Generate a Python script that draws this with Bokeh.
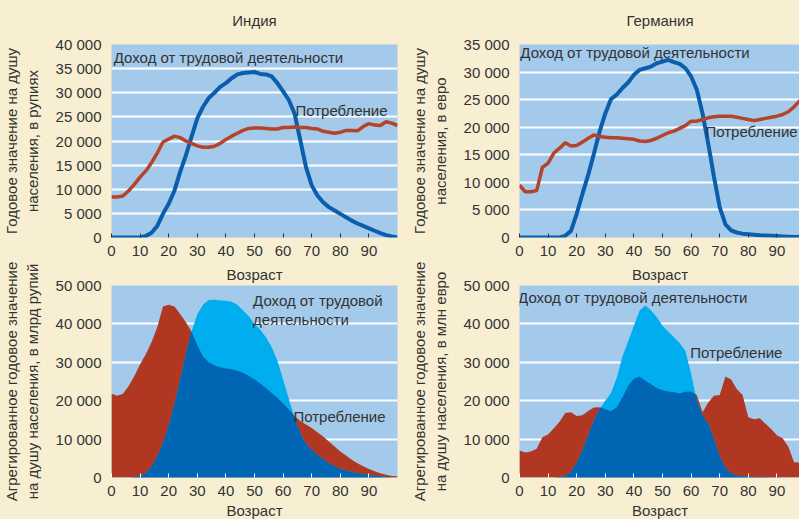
import numpy as np
from bokeh.plotting import figure
from bokeh.layouts import column, row
from bokeh.models import FixedTicker, Label, Range1d, GlobalInlineStyleSheet, LinearAxis
from bokeh.embed import file_html
from bokeh.resources import INLINE

# ---------------- data ----------------
ages = list(range(0, 101, 2))

# India, per capita (rupees)
in_income = [0, 0, 0, 0, 0, 0, 300, 1000, 2400, 4900, 7000, 9700, 13600, 17000, 20900, 24700,
             27100, 28900, 30000, 31200, 32000, 33000, 33800, 34100, 34200, 34300, 33900, 33800,
             33400, 32000, 30300, 28500, 25700, 20200, 14600, 10800, 8700, 7300, 6300, 5600, 4900,
             4200, 3500, 2900, 2400, 1900, 1400, 900, 500, 200, 0]
in_consumption = [8400, 8400, 8600, 9700, 11000, 12500, 13800, 15500, 17500, 19800, 20400, 21000,
                  20700, 20000, 19500, 19000, 18700, 18700, 18900, 19500, 20300, 21000, 21600,
                  22200, 22600, 22700, 22700, 22600, 22500, 22500, 22800, 22800, 22900, 22800,
                  22800, 22600, 22500, 22000, 21800, 21600, 21800, 22200, 22200, 22100, 23000,
                  23600, 23300, 23200, 24000, 23700, 23200]

# Germany, per capita (euro)
de_income = [0, 0, 0, 0, 0, 0, 0, 0, 300, 1200, 4300, 7900, 11300, 15200, 19200, 22500, 25100,
             25900, 27100, 28100, 29500, 30400, 30700, 31000, 31600, 31900, 32200, 31800, 31500,
             30700, 29200, 26800, 22500, 17000, 11000, 5500, 2400, 1300, 900, 700, 600, 500, 400,
             350, 300, 250, 200, 150, 100, 100, 100]
de_consumption = [9500, 8300, 8300, 8500, 12700, 13500, 15300, 16200, 17200, 16600, 16700, 17300,
                  18000, 18600, 18300, 18200, 18100, 18100, 18000, 17900, 17800, 17500, 17400,
                  17600, 18000, 18500, 19000, 19300, 19800, 20300, 21100, 21100, 21400, 21700,
                  21900, 22000, 22000, 22000, 21800, 21600, 21400, 21200, 21400, 21600, 21800,
                  22000, 22300, 22800, 23700, 24800, 25500]

# India, aggregate (bn rupees)
in_agg_income = [0, 0, 0, 0, 100, 400, 1200, 2800, 5500, 9000, 13500, 19000, 25500, 32000, 38000,
                 42500, 45000, 46200, 46300, 46100, 46000, 45800, 45000, 43500, 42000, 40000, 38500,
                 36500, 34000, 30400, 25500, 20500, 15500, 11500, 8800, 7200, 5900, 4800, 3700, 2900,
                 2300, 1800, 1400, 1100, 850, 650, 450, 300, 150, 80, 0]
in_agg_consumption = [21800, 21300, 21800, 23800, 26400, 29500, 32100, 35200, 39100, 44500, 45000,
                      44500, 42600, 40400, 38000, 34500, 31500, 30000, 29200, 28700, 28400, 28200,
                      27800, 27300, 26500, 25500, 24500, 23300, 22000, 20800, 19300, 17800, 16000,
                      14700, 13800, 12900, 11800, 10700, 9400, 8100, 6800, 5700, 4600, 3700, 2900,
                      2200, 1600, 1100, 700, 400, 300]

# Germany, aggregate (mn euro)
de_agg_income = [0, 0, 0, 0, 0, 0, 0, 100, 300, 1500, 3800, 7000, 11000, 14800, 17800, 20000,
                 22000, 26000, 31500, 35500, 39500, 43500, 44800, 43500, 41800, 39500, 38000, 36500,
                 35000, 33000, 27000, 20000, 16000, 14000, 10000, 5500, 2500, 1000, 500, 300, 200,
                 150, 100, 100, 50, 50, 0, 0, 0, 0, 0]
de_agg_consumption = [7000, 6500, 6800, 7500, 10500, 11200, 12800, 14500, 16800, 17000, 16000,
                      16200, 17300, 18200, 18300, 17800, 17300, 18300, 20900, 23900, 25700, 26300,
                      25200, 24300, 23300, 22700, 22400, 22200, 21900, 22300, 22400, 21500, 17000,
                      19500, 21300, 21500, 26300, 25500, 23000, 21500, 15700, 15200, 15400, 14000,
                      12600, 11000, 10200, 8000, 4000, 3900, 4800]

x_ticks = [0, 10, 20, 30, 40, 50, 60, 70, 80, 90]
y_ticks_in = [0, 5000, 10000, 15000, 20000, 25000, 30000, 35000, 40000]
y_labels_in = ["0", "5 000", "10 000", "15 000", "20 000", "25 000", "30 000", "35 000", "40 000"]
y_ticks_de = [0, 5000, 10000, 15000, 20000, 25000, 30000, 35000]
y_labels_de = ["0", "5 000", "10 000", "15 000", "20 000", "25 000", "30 000", "35 000"]
y_ticks_agg = [0, 10000, 20000, 30000, 40000, 50000]
y_labels_agg = ["0", "10 000", "20 000", "30 000", "40 000", "50 000"]

# ---------------- style ----------------
PAGE = "#f8efd2"
BG = "#a3c9eb"
TXT = "#333333"
RED_LINE = "#b5432a"
BLUE_LINE = "#0a5eab"
RED_AREA = "#b03823"
CYAN_AREA = "#00aeef"
DARK_AREA = "#0066b3"
FONT = "Liberation Sans"
FS = "15px"

PX_PER_YEAR = 2.86


def style_label(ax, standoff):
    ax.axis_label_text_font = FONT
    ax.axis_label_text_font_size = FS
    ax.axis_label_text_font_style = "normal"
    ax.axis_label_text_color = TXT
    ax.axis_label_standoff = standoff


def make_fig(x0, frame_w, frame_h, ymax, yt, yl, ytitle, top, bottom, tick_color,
             top_text, top_standoff, xlabel=None, right=0):
    p = figure(title=None, frame_width=frame_w, frame_height=frame_h,
               x_range=Range1d(0, frame_w / PX_PER_YEAR), y_range=Range1d(0, ymax),
               output_backend="svg", toolbar_location=None,
               min_border_left=x0, min_border_right=right,
               min_border_top=top, min_border_bottom=bottom,
               background_fill_color=BG, border_fill_color=PAGE, outline_line_color=None)
    xa = p.xaxis[0]
    xa.ticker = FixedTicker(ticks=x_ticks)
    xa.axis_line_color = None
    xa.major_tick_in = 4
    xa.major_tick_out = 0
    xa.major_tick_line_color = tick_color
    xa.major_tick_line_width = 1
    xa.minor_tick_line_color = None
    xa.major_label_text_font = FONT
    xa.major_label_text_font_size = FS
    xa.major_label_text_color = TXT
    xa.major_label_standoff = 8
    if xlabel:
        xa.axis_label = xlabel
        style_label(xa, 3)
    # heading above the frame (country name or the age axis title of the upper chart)
    head = LinearAxis(ticker=FixedTicker(ticks=[]), axis_line_color=None,
                      major_tick_line_color=None, minor_tick_line_color=None,
                      major_tick_in=0, major_tick_out=0, major_label_standoff=0,
                      axis_label=top_text)
    style_label(head, top_standoff)
    p.add_layout(head, "above")
    ya = p.yaxis[0]
    ya.ticker = FixedTicker(ticks=yt)
    ya.major_label_overrides = {t: l for t, l in zip(yt, yl)}
    ya.axis_line_color = None
    ya.major_tick_line_color = None
    ya.minor_tick_line_color = None
    ya.major_label_text_font = FONT
    ya.major_label_text_font_size = FS
    ya.major_label_text_color = TXT
    ya.major_label_standoff = 4
    ya.axis_label = ytitle
    style_label(ya, 12)
    p.xgrid.grid_line_color = None
    p.ygrid.grid_line_color = "white"
    p.ygrid.grid_line_width = 2
    p.ygrid.ticker = FixedTicker(ticks=yt[1:-1])
    return p


def add_label(p, x, y, text, align="left"):
    p.add_layout(Label(x=x, y=y, text=text, text_font=FONT, text_font_size=FS,
                       text_color=TXT, text_baseline="middle", text_align=align))


def overlap(x, a, b):
    xs, lo = [], []
    for i in range(len(x)):
        if i > 0:
            d0 = a[i - 1] - b[i - 1]
            d1 = a[i] - b[i]
            if d0 * d1 < 0:
                t = d0 / (d0 - d1)
                xs.append(x[i - 1] + t * (x[i] - x[i - 1]))
                lo.append(a[i - 1] + t * (a[i] - a[i - 1]))
        xs.append(x[i])
        lo.append(min(a[i], b[i]))
    return xs, lo


# ---------------- top row ----------------
p1 = make_fig(110, 286, 193, 40000, y_ticks_in, y_labels_in,
              "Годовое значение на душу\nнаселения, в рупиях", 44, 25, TXT,
              "Индия", 16, right=4)
p1.line(ages, in_income, line_color=BLUE_LINE, line_width=4)
p1.line(ages, in_consumption, line_color=RED_LINE, line_width=3.5)
add_label(p1, 0.8, 37300, "Доход от трудовой деятельности")
add_label(p1, 64.3, 26300, "Потребление")

p2 = make_fig(118, 281, 193, 35000, y_ticks_de, y_labels_de,
              "Годовое значение на душу\nнаселения, в евро", 44, 25, TXT,
              "Германия", 16)
p2.line(ages, de_income, line_color=BLUE_LINE, line_width=4)
p2.line(ages, de_consumption, line_color=RED_LINE, line_width=3.5)
add_label(p2, 0.3, 33500, "Доход от трудовой деятельности")
add_label(p2, 65.0, 19200, "Потребление")

# ---------------- bottom row ----------------
p3 = make_fig(110, 286, 192, 50000, y_ticks_agg, y_labels_agg,
              "Агрегированное годовое значение\nна душу населения, в млрд рупий", 23, 42, "white",
              "Возраст", 3, xlabel="Возраст", right=4)
p3.varea(x=ages, y1=0, y2=in_agg_consumption, fill_color=RED_AREA)
p3.varea(x=ages, y1=0, y2=in_agg_income, fill_color=CYAN_AREA)
ox, oy = overlap(ages, in_agg_income, in_agg_consumption)
p3.varea(x=ox, y1=0, y2=oy, fill_color=DARK_AREA)
add_label(p3, 49.5, 46100, "Доход от трудовой")
add_label(p3, 49.5, 41100, "деятельности")
add_label(p3, 63.6, 16000, "Потребление")

p4 = make_fig(118, 281, 192, 50000, y_ticks_agg, y_labels_agg,
              "Агрегированное годовое значение\nна душу населения, в млн евро", 23, 42, "white",
              "Возраст", 3, xlabel="Возраст")
p4.varea(x=ages, y1=0, y2=de_agg_consumption, fill_color=RED_AREA)
p4.varea(x=ages, y1=0, y2=de_agg_income, fill_color=CYAN_AREA)
ox, oy = overlap(ages, de_agg_income, de_agg_consumption)
p4.varea(x=ox, y1=0, y2=oy, fill_color=DARK_AREA)
add_label(p4, -0.5, 46900, "Доход от трудовой деятельности")
add_label(p4, 59.7, 32500, "Потребление")

css = GlobalInlineStyleSheet(css="html, body { margin: 0 !important; padding: 0 !important; "
                                 "background: %s !important; overflow: hidden; }" % PAGE)
p = column(row(p1, p2, spacing=0), row(p3, p4, spacing=0), spacing=0, stylesheets=[css])

open("out.html", "w").write(file_html(p, INLINE))
